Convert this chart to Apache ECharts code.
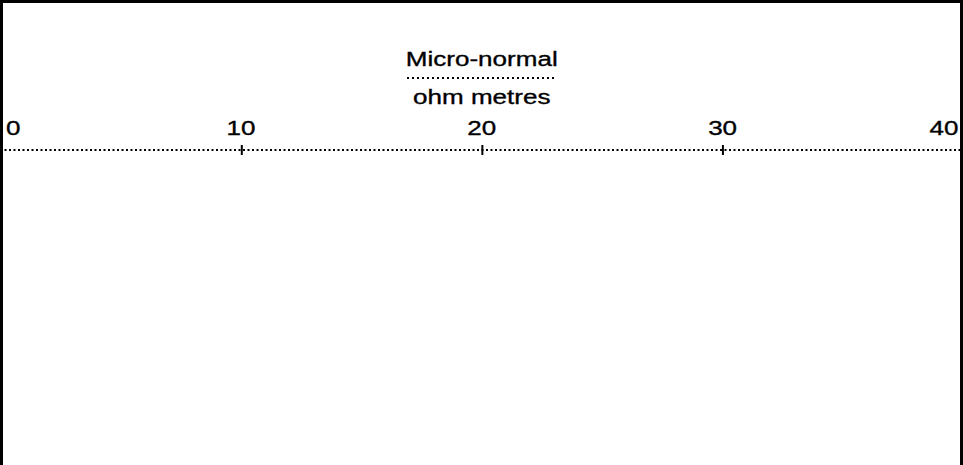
<!DOCTYPE html>
<html>
<head>
<meta charset="utf-8">
<script src="https://cdn.jsdelivr.net/npm/echarts@6/dist/echarts.min.js"></script>
<style>
html,body{margin:0;padding:0;background:#fff;overflow:hidden;}
#chart{height:465px;transform-origin:0 0;}
</style>
</head>
<body>
<div id="chart"></div>
<script>
// ---- data ----
const scaleMin = 0;
const scaleMax = 40;
const scaleInterval = 10;
const tickLabels = ['0', '10', '20', '30', '40'];
const curveName = 'Micro-normal';
const curveUnit = 'ohm metres';
const curveDepths = [];
const curveValues = [];

// ---- layout (the reference lettering is horizontally wide; stretch the whole svg) ----
const SX = 1.24;
const PW = 963, PH = 465;
const W = PW / SX;
const el = document.getElementById('chart');
el.style.width = W + 'px';
el.style.transform = 'scaleX(' + SX + ')';

const FONT = '"Liberation Sans", Arial, sans-serif';
const FS = 21;
const AXIS_DOTS = [2 / SX, 2.5 / SX];
const SEP_DOTS = [2 / SX, 3 / SX];
const chart = echarts.init(el, null, { renderer: 'svg' });

function txt(extra) {
  return Object.assign({
    fontSize: FS, fontFamily: FONT, color: '#000',
    textBorderColor: '#000', textBorderWidth: 0.35
  }, extra || {});
}

const labelRich = {
  l: txt({ padding: [0, 0, 0, 6 / SX] }),
  m: txt(),
  r: txt({ padding: [0, 5 / SX, 0, 0] })
};

chart.setOption({
  backgroundColor: '#fff',
  animation: false,
  grid: { left: 0, right: 0, top: 150, bottom: 5, containLabel: false },
  xAxis: [
    {
      type: 'value', position: 'top', min: scaleMin, max: scaleMax, interval: scaleInterval,
      name: '{a|' + curveName + '}\n{b|' + curveUnit + '}',
      nameLocation: 'middle', nameGap: 34,
      nameTextStyle: {
        rich: {
          a: txt({ lineHeight: 38, align: 'center' }),
          b: txt({ lineHeight: 38, align: 'center' })
        }
      },
      axisLine: { show: true, onZero: false, lineStyle: { color: '#000', width: 2, type: AXIS_DOTS, cap: 'butt' } },
      axisTick: { show: true, inside: false, length: 5, lineStyle: { color: '#000', width: 2 / SX, cap: 'butt' } },
      axisLabel: {
        show: true, margin: 12, alignMinLabel: 'left', alignMaxLabel: 'right',
        fontSize: FS, fontFamily: FONT, color: '#000',
        formatter: function (v, i) {
          const t = tickLabels[i] !== undefined ? tickLabels[i] : String(v);
          if (i === 0) return '{l|' + t + '}';
          if (v === scaleMax) return '{r|' + t + '}';
          return '{m|' + t + '}';
        },
        rich: labelRich
      },
      splitLine: { show: false }
    },
    {
      type: 'value', position: 'top', min: scaleMin, max: scaleMax, interval: scaleInterval,
      axisLine: { show: false },
      axisTick: { show: true, inside: true, length: 5, lineStyle: { color: '#000', width: 2 / SX, cap: 'butt' } },
      axisLabel: { show: false },
      splitLine: { show: false }
    }
  ],
  yAxis: { type: 'value', inverse: true, show: false, min: 0, max: 100 },
  series: [
    {
      type: 'line', xAxisIndex: 0, name: curveName, showSymbol: false,
      data: curveDepths.map((d, i) => [curveValues[i], d]),
      lineStyle: { color: '#000', width: 1.5 }
    }
  ],
  graphic: [
    { type: 'rect', shape: { x: 0, y: 0, width: 3 / SX, height: PH }, style: { fill: '#000' }, silent: true, z: 100 },
    { type: 'rect', shape: { x: 0, y: 0, width: W, height: 3 }, style: { fill: '#000' }, silent: true, z: 100 },
    { type: 'rect', shape: { x: W - 3 / SX, y: 0, width: 3 / SX, height: PH }, style: { fill: '#000' }, silent: true, z: 100 },
    {
      type: 'line', shape: { x1: 407 / SX, y1: 78, x2: 557 / SX, y2: 78 },
      style: { stroke: '#000', lineWidth: 2, lineDash: SEP_DOTS, lineCap: 'butt' }, silent: true
    }
  ]
});
</script>
</body>
</html>
